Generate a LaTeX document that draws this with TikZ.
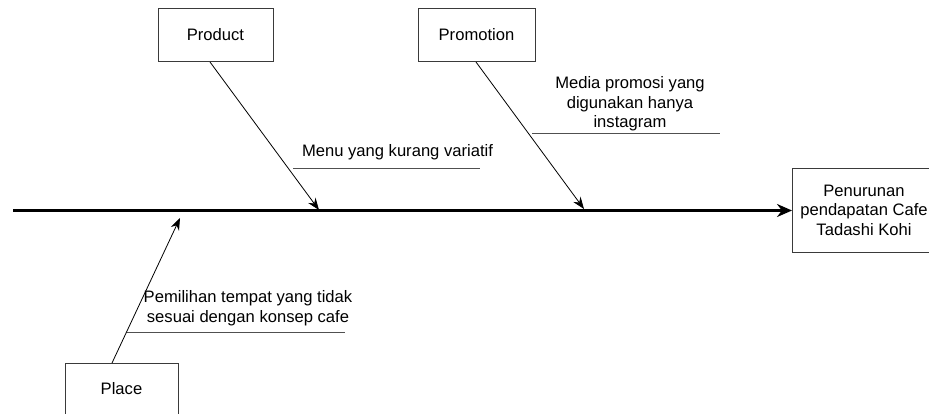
\documentclass[tikz,border=0pt]{standalone}
\usepackage{fontspec}
\setmainfont{Liberation Sans}
\usetikzlibrary{arrows.meta}
\definecolor{boxline}{HTML}{3A3A3A}
\definecolor{ulcol}{HTML}{505050}
\begin{document}
\begin{tikzpicture}[x=1pt,y=-1pt,
  box/.style={draw=boxline,line width=0.9pt,fill=white,inner sep=0pt,align=center,font=\fontsize{16.6}{19.5}\selectfont},
  lbl/.style={inner sep=0pt,align=center,font=\fontsize{16.6}{19.5}\selectfont},
  spine/.style={line width=2.4pt,-{Stealth[length=15pt,width=13pt]}},
  branch/.style={line width=0.8pt,-{Stealth[length=12pt,width=9pt]}},
  uline/.style={draw=ulcol,line width=0.8pt}]
\useasboundingbox (0,0) rectangle (929,413);
\clip (0,0) rectangle (929,413);
% boxes
\node[box,minimum width=115pt,minimum height=53pt] (product) at (215.5,34.5) {Product};
\node[box,minimum width=117pt,minimum height=53pt] (promotion) at (476.5,34.5) {Promotion};
\node[box,minimum width=113pt,minimum height=60pt,anchor=north] (place) at (121.5,363) {};
\node[lbl] (placetxt) at (121.5,389) {Place};
\node[box,draw=none,minimum width=160pt,minimum height=83pt,anchor=west] (effect) at (792,210.5) {};
\draw[draw=boxline,line width=0.9pt] (effect.north east) -- (effect.north west) -- (effect.south west) -- (effect.south east);
\node[lbl] (effecttxt) at (864,210) {Penurunan\\pendapatan Cafe\\Tadashi Kohi};
% spine
\coordinate (spinestart) at (13,210.5);
\draw[spine] (spinestart) -- (effect.west);
% product branch
\coordinate (prs) at (210,62);
\coordinate (pre) at (319,210);
\draw[branch] (prs) -- (pre);
\node[lbl] (menutxt) at (397.5,152) {Menu yang kurang variatif};
\coordinate (mu1) at (293,168);
\coordinate (mu2) at (480,168);
\draw[uline] (mu1) -- (mu2);
% promotion branch
\coordinate (pms) at (476,62);
\coordinate (pme) at (584,209);
\draw[branch] (pms) -- (pme);
\node[lbl] (medtxt) at (630,104) {Media promosi yang\\digunakan hanya\\instagram};
\coordinate (md1) at (532,133);
\coordinate (md2) at (720,133);
\draw[uline] (md1) -- (md2);
% place branch
\coordinate (pls) at (112,363);
\coordinate (ple) at (180,218);
\draw[branch] (pls) -- (ple);
\node[lbl] (pemtxt) at (248,308) {Pemilihan tempat yang tidak\\sesuai dengan konsep cafe};
\coordinate (pu1) at (127,332);
\coordinate (pu2) at (345,332);
\draw[uline] (pu1) -- (pu2);
\end{tikzpicture}
\end{document}
